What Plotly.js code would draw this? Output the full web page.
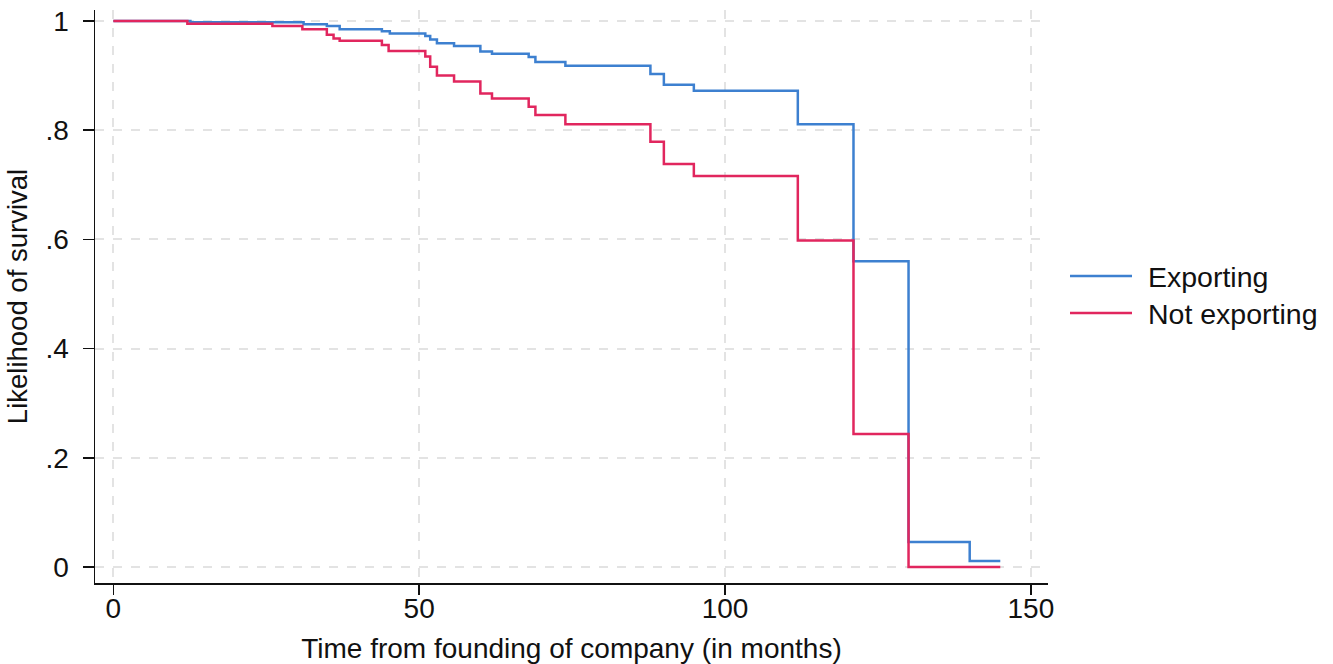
<!DOCTYPE html>
<html>
<head>
<meta charset="utf-8">
<script src="https://cdn.plot.ly/plotly-3.0.1.min.js"></script>
<style>
html,body{margin:0;padding:0;background:#fff;}
#chart{width:1333px;height:664px;}
</style>
</head>
<body>
<div id="chart"></div>
<script>
// Kaplan-Meier style survival estimates (step at each event time)
const timeExporting = [0, 12.6, 31.1, 34.9, 37.0, 43.9, 45.2, 51.0, 51.8, 52.9, 55.7, 60.0, 61.9, 67.9, 69.0, 73.9, 87.8, 90.0, 94.9, 111.9, 121.0, 130.0, 140.0, 145.0];
const survExporting = [1, 0.9975, 0.994, 0.991, 0.985, 0.981, 0.977, 0.9725, 0.966, 0.959, 0.954, 0.944, 0.940, 0.934, 0.925, 0.918, 0.903, 0.883, 0.872, 0.811, 0.560, 0.046, 0.011, 0.011];

const timeNotExporting = [0, 12.1, 26.0, 30.9, 34.9, 36.0, 37.0, 43.9, 45.0, 51.0, 51.8, 52.9, 55.7, 60.0, 61.9, 67.9, 69.0, 73.9, 87.8, 90.0, 94.9, 111.9, 121.0, 130.0, 145.0];
const survNotExporting = [1, 0.995, 0.991, 0.985, 0.975, 0.968, 0.964, 0.956, 0.945, 0.935, 0.916, 0.900, 0.889, 0.867, 0.858, 0.843, 0.828, 0.811, 0.779, 0.738, 0.716, 0.598, 0.2436, 0, 0];

const seriesNames = ["Exporting", "Not exporting"];
const yTickVals = [0, 0.2, 0.4, 0.6, 0.8, 1];
const yTickText = ["0", ".2", ".4", ".6", ".8", "1"];
const xTickVals = [0, 50, 100, 150];
const xTickText = ["0", "50", "100", "150"];

const colors = ["#3d80d0", "#e1265e"];
const FONT = "Liberation Sans, Arial, Helvetica, sans-serif";

const W = 1333, H = 664;
const M = {l: 95, r: 285, t: 10, b: 81};
const pw = W - M.l - M.r, ph = H - M.t - M.b;
const px2paperX = p => (p - M.l) / pw;
const px2paperY = p => (H - M.b - p) / ph;

const traces = [
  {x: timeExporting, y: survExporting, name: seriesNames[0], mode: "lines",
   line: {shape: "hv", color: colors[0], width: 2.5}, showlegend: false},
  {x: timeNotExporting, y: survNotExporting, name: seriesNames[1], mode: "lines",
   line: {shape: "hv", color: colors[1], width: 2.5}, showlegend: false}
];

// custom legend (long line samples as in the reference)
const legendRows = [276, 313];
const shapes = [];
const annotations = [];
seriesNames.forEach((n, i) => {
  shapes.push({type: "line", xref: "paper", yref: "paper",
    x0: px2paperX(1070), x1: px2paperX(1132),
    y0: px2paperY(legendRows[i]), y1: px2paperY(legendRows[i]),
    line: {color: colors[i], width: 2.5}});
  annotations.push({xref: "paper", yref: "paper", x: px2paperX(1146), y: px2paperY(legendRows[i] + 1),
    xanchor: "left", yanchor: "middle", showarrow: false, text: n,
    font: {family: FONT, size: 28.5, color: "#111"}});
});

const layout = {
  width: W, height: H,
  margin: M,
  paper_bgcolor: "#fff", plot_bgcolor: "#fff",
  showlegend: false,
  font: {family: FONT, color: "#111"},
  xaxis: {
    range: [-3.0, 152.8],
    tickvals: xTickVals, ticktext: xTickText,
    tickfont: {family: FONT, size: 28, color: "#111"},
    ticks: "outside", ticklen: 10, tickwidth: 1.5, tickcolor: "#111",
    showline: true, linecolor: "#111", linewidth: 1.5,
    showgrid: true, gridcolor: "#e3e3e3", gridwidth: 2, griddash: "dash",
    zeroline: false,
    ticklabelstandoff: -10,
    title: {text: "Time from founding of company (in months)", font: {family: FONT, size: 28, color: "#111"}, standoff: 16}
  },
  yaxis: {
    range: [-0.0293, 1.0201],
    tickvals: yTickVals, ticktext: yTickText,
    tickfont: {family: FONT, size: 28, color: "#111"},
    ticks: "outside", ticklen: 11, tickwidth: 1.5, tickcolor: "#111",
    showline: true, linecolor: "#111", linewidth: 1.5,
    showgrid: true, gridcolor: "#e3e3e3", gridwidth: 2, griddash: "dash",
    zeroline: false,
    ticklabelstandoff: 8,
    title: {text: "Likelihood of survival", font: {family: FONT, size: 27.5, color: "#111"}, standoff: 10}
  },
  shapes: shapes,
  annotations: annotations
};

Plotly.newPlot("chart", traces, layout, {displayModeBar: false, staticPlot: true});
</script>
</body>
</html>
